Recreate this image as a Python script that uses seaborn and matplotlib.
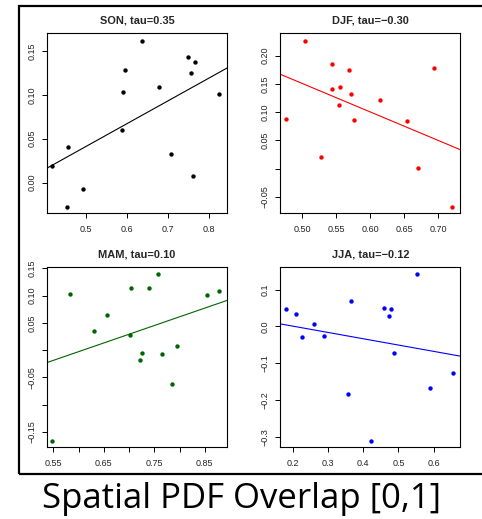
import numpy as np
import pandas as pd
import seaborn as sns
import matplotlib
matplotlib.use("Agg")
import matplotlib.pyplot as plt
from matplotlib.patches import Rectangle

# ---------------- data ----------------
son_x = [0.418, 0.456, 0.4535, 0.493, 0.589, 0.590, 0.595, 0.636, 0.678, 0.709, 0.749, 0.758, 0.7665, 0.761, 0.825]
son_y = [0.019, 0.0407, -0.028, -0.0075, 0.060, 0.103, 0.128, 0.161, 0.1087, 0.0323, 0.1428, 0.1246, 0.137, 0.0073, 0.1007]

djf_x = [0.4755, 0.5044, 0.527, 0.5442, 0.5438, 0.5537, 0.5556, 0.5684, 0.5723, 0.5763, 0.614, 0.655, 0.670, 0.6947, 0.7212]
djf_y = [0.0872, 0.2255, 0.0198, 0.1847, 0.1404, 0.112, 0.144, 0.174, 0.1316, 0.0855, 0.121, 0.0837, 0.0003, 0.1777, -0.0688]

mam_x = [0.548, 0.583, 0.631, 0.6564, 0.7014, 0.7046, 0.7224, 0.7264, 0.7396, 0.758, 0.7648, 0.7858, 0.795, 0.854, 0.8783]
mam_y = [-0.1669, 0.1024, 0.0346, 0.0639, 0.0273, 0.1134, -0.0185, -0.0057, 0.1134, 0.139, -0.0075, -0.0625, 0.0071, 0.1005, 0.1079]

jja_x = [0.181, 0.2094, 0.2255, 0.2604, 0.288, 0.3577, 0.3645, 0.4213, 0.459, 0.4732, 0.478, 0.4874, 0.5518, 0.5904, 0.654]
jja_y = [0.0467, 0.033, -0.0296, 0.0058, -0.0268, -0.1846, 0.0684, -0.3125, 0.0494, 0.0293, 0.0467, -0.0731, 0.142, -0.1684, -0.1275]

titles = ["SON, tau=0.35", "DJF, tau=\u22120.30", "MAM, tau=0.10", "JJA, tau=\u22120.12"]
colors = ["black", "#ff0000", "#006400", "#0000ff"]

son_xticks = [0.5, 0.6, 0.7, 0.8]
son_xlabels = ["0.5", "0.6", "0.7", "0.8"]
son_yticks = [0.00, 0.05, 0.10, 0.15]
son_ylabels = ["0.00", "0.05", "0.10", "0.15"]

djf_xticks = [0.50, 0.55, 0.60, 0.65, 0.70]
djf_xlabels = ["0.50", "0.55", "0.60", "0.65", "0.70"]
djf_yticks = [-0.05, 0.00, 0.05, 0.10, 0.15, 0.20]
djf_ylabels = ["\u22120.05", "", "0.05", "0.10", "0.15", "0.20"]

mam_xticks = [0.55, 0.60, 0.65, 0.70, 0.75, 0.80, 0.85]
mam_xlabels = ["0.55", "", "0.65", "", "0.75", "", "0.85"]
mam_yticks = [-0.15, -0.10, -0.05, 0.00, 0.05, 0.10, 0.15]
mam_ylabels = ["\u22120.15", "", "\u22120.05", "", "0.05", "0.10", "0.15"]

jja_xticks = [0.2, 0.3, 0.4, 0.5, 0.6]
jja_xlabels = ["0.2", "0.3", "0.4", "0.5", "0.6"]
jja_yticks = [-0.3, -0.2, -0.1, 0.0, 0.1]
jja_ylabels = ["\u22120.3", "\u22120.2", "\u22120.1", "0.0", "0.1"]

bottom_label = "Spatial PDF Overlap [0,1]"

# ---------------- styling ----------------
sns.set_theme(style="ticks")
plt.rcParams["font.family"] = ["Liberation Sans", "DejaVu Sans"]
plt.rcParams["axes.edgecolor"] = "black"
plt.rcParams["axes.linewidth"] = 0.8
plt.rcParams["xtick.color"] = "black"
plt.rcParams["ytick.color"] = "black"

W, H = 482, 519
fig = plt.figure(figsize=(W / 100, H / 100), dpi=100)
fig.patch.set_facecolor("white")

def box(l, t, r, b):
    return [l / W, 1 - b / H, (r - l) / W, (b - t) / H]

panels = [
    dict(x=son_x, y=son_y, rect=box(46.7, 33.3, 227, 213), xlim=(0.404, 0.845), ylim=(-0.0345, 0.170),
         xt=son_xticks, xl=son_xlabels, yt=son_yticks, yl=son_ylabels),
    dict(x=djf_x, y=djf_y, rect=box(280.3, 33.3, 460.3, 213.3), xlim=(0.4676, 0.733), ylim=(-0.0794, 0.2397),
         xt=djf_xticks, xl=djf_xlabels, yt=djf_yticks, yl=djf_ylabels),
    dict(x=mam_x, y=mam_y, rect=box(46.7, 267.3, 227, 447.3), xlim=(0.537, 0.894), ylim=(-0.178, 0.1518),
         xt=mam_xticks, xl=mam_xlabels, yt=mam_yticks, yl=mam_ylabels),
    dict(x=jja_x, y=jja_y, rect=box(280.3, 267.3, 460.3, 447.3), xlim=(0.1648, 0.6755), ylim=(-0.3288, 0.161),
         xt=jja_xticks, xl=jja_xlabels, yt=jja_yticks, yl=jja_ylabels),
]

for p, title, col in zip(panels, titles, colors):
    ax = fig.add_axes(p["rect"])
    ax.set_xlim(*p["xlim"])
    ax.set_ylim(*p["ylim"])
    df = pd.DataFrame({"x": p["x"], "y": p["y"]})
    sns.regplot(data=df, x="x", y="y", ax=ax, ci=None, truncate=False, color=col,
                scatter_kws=dict(s=10, linewidths=0, alpha=1),
                line_kws=dict(lw=0.8))
    ax.set_xlim(*p["xlim"])
    ax.set_ylim(*p["ylim"])
    ax.set_xlabel("")
    ax.set_ylabel("")
    ax.set_xticks(p["xt"])
    ax.set_xticklabels(p["xl"])
    ax.set_yticks(p["yt"])
    ax.set_yticklabels(p["yl"], rotation=90, va="center")
    ax.tick_params(axis="both", direction="out", length=3.6, width=0.7,
                   labelsize=6.5, labelcolor="#222222")
    ax.tick_params(axis="x", pad=5)
    ax.tick_params(axis="y", pad=4)
    for s in ax.spines.values():
        s.set_visible(True)
        s.set_linewidth(0.8)
        s.set_color("black")
    ax.set_title(title, fontsize=7.9, fontweight="bold", pad=7.2)

# outer frame
fig.add_artist(Rectangle((18.5 / W, 1 - 473.5 / H), (490 - 18.5) / W, (473.5 - 5.5) / H,
                         transform=fig.transFigure, fill=False, edgecolor="black",
                         linewidth=1.6, clip_on=False))

fig.text(42.5 / W, 1 - 508 / H, bottom_label, fontsize=25, family=["Open Sans", "DejaVu Sans"],
         ha="left", va="baseline", color="black")

fig.savefig("out.png", dpi=100, facecolor="white")
